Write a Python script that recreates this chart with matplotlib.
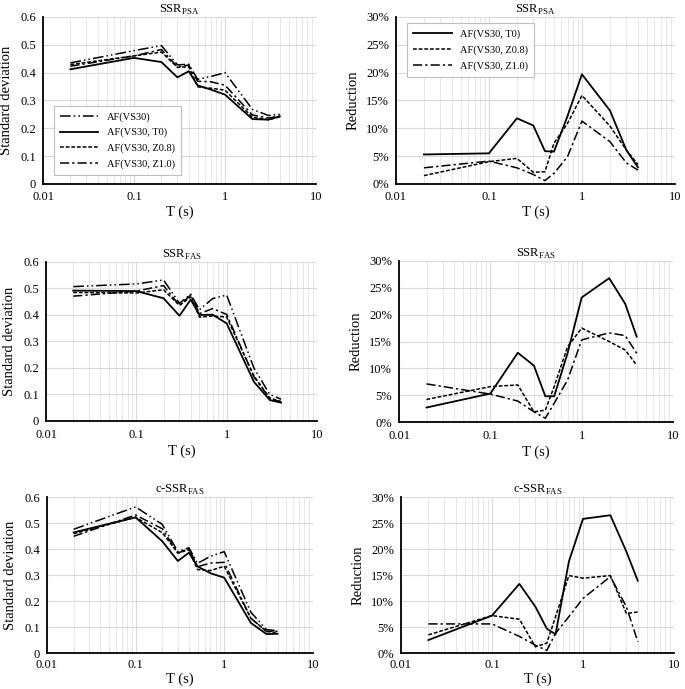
import numpy as np
import matplotlib
matplotlib.use("Agg")
import matplotlib.pyplot as plt
from matplotlib.ticker import FixedLocator, FuncFormatter, LogLocator, NullFormatter

plt.rcParams['font.family'] = ['Liberation Serif', 'DejaVu Serif']
plt.rcParams['mathtext.fontset'] = 'custom'
plt.rcParams['mathtext.rm'] = 'Liberation Serif'

# periods (s)
T = [0.02, 0.1, 0.2, 0.3, 0.4, 0.5, 0.7, 1, 2, 3, 4]

# standard deviations, SSR_PSA
psa_vs30 = [0.435, 0.479, 0.497, 0.428, 0.430, 0.376, 0.386, 0.400, 0.268, 0.246, 0.250]
psa_t0   = [0.412, 0.453, 0.438, 0.383, 0.405, 0.354, 0.339, 0.321, 0.233, 0.231, 0.243]
psa_z08  = [0.429, 0.460, 0.474, 0.419, 0.421, 0.349, 0.344, 0.337, 0.240, 0.231, 0.241]
psa_z10  = [0.423, 0.460, 0.483, 0.421, 0.427, 0.369, 0.367, 0.355, 0.248, 0.237, 0.244]
# reductions (%), SSR_PSA
psa_r_t0  = [5.3, 5.5, 11.8, 10.5, 5.9, 5.8, 12.2, 19.7, 13.2, 6.1, 3.0]
psa_r_z08 = [1.5, 4.0, 4.6, 2.1, 2.2, 7.3, 10.9, 15.9, 10.4, 6.1, 3.5]
psa_r_z10 = [2.9, 4.1, 2.9, 1.7, 0.6, 1.9, 4.9, 11.3, 7.6, 3.8, 2.5]

# standard deviations, SSR_FAS
fas_vs30 = [0.507, 0.517, 0.532, 0.444, 0.478, 0.420, 0.462, 0.475, 0.200, 0.100, 0.082]
fas_t0   = [0.492, 0.490, 0.463, 0.397, 0.458, 0.400, 0.401, 0.368, 0.148, 0.079, 0.069]
fas_z08  = [0.485, 0.483, 0.495, 0.436, 0.468, 0.392, 0.396, 0.392, 0.170, 0.087, 0.073]
fas_z10  = [0.471, 0.490, 0.511, 0.436, 0.476, 0.405, 0.424, 0.402, 0.167, 0.084, 0.072]
# reductions (%), SSR_FAS
fas_r_t0  = [2.7, 5.3, 12.9, 10.5, 4.8, 4.8, 12.8, 23.2, 26.8, 22.0, 15.9]
fas_r_z08 = [4.2, 6.6, 6.9, 1.9, 2.2, 6.6, 14.0, 17.5, 15.0, 13.4, 10.6]
fas_r_z10 = [7.1, 5.2, 3.9, 1.9, 0.7, 3.5, 7.8, 15.3, 16.6, 16.1, 12.8]

# standard deviations, c-SSR_FAS
cfas_vs30 = [0.476, 0.562, 0.495, 0.390, 0.405, 0.345, 0.372, 0.390, 0.157, 0.090, 0.086]
cfas_t0   = [0.464, 0.522, 0.430, 0.354, 0.386, 0.333, 0.307, 0.290, 0.116, 0.073, 0.074]
cfas_z08  = [0.459, 0.522, 0.463, 0.385, 0.397, 0.321, 0.317, 0.334, 0.134, 0.083, 0.079]
cfas_z10  = [0.449, 0.531, 0.478, 0.384, 0.403, 0.332, 0.346, 0.349, 0.134, 0.083, 0.084]
# reductions (%), c-SSR_FAS
cfas_r_t0  = [2.5, 7.2, 13.3, 8.9, 4.7, 3.6, 17.6, 25.8, 26.5, 19.5, 13.9]
cfas_r_z08 = [3.5, 7.2, 6.5, 1.2, 1.9, 7.0, 14.9, 14.4, 14.9, 7.6, 7.9]
cfas_r_z10 = [5.6, 5.6, 3.2, 1.5, 0.5, 3.8, 7.0, 10.5, 14.7, 8.9, 2.2]

lab_vs30 = 'AF(VS30)'
lab_t0 = 'AF(VS30, T0)'
lab_z08 = 'AF(VS30, Z0.8)'
lab_z10 = 'AF(VS30, Z1.0)'

st_vs30 = dict(color='black', lw=1.1, dashes=(7, 2, 1, 2, 1, 2))
st_t0 = dict(color='black', lw=1.3, linestyle='-')
st_z08 = dict(color='black', lw=1.1, dashes=(2.5, 1.2))
st_z10 = dict(color='black', lw=1.1, dashes=(6, 2, 1.5, 2))

fig = plt.figure(figsize=(6.85, 6.89), dpi=100)

# [left, bottom, width, height], x tick pad, x label pad
pos = {
    'l1': ([0.0628, 0.733, 0.3985, 0.2424], 5, 2),
    'r1': ([0.578, 0.733, 0.4073, 0.2424], 5, 2),
    'l2': ([0.0672, 0.389, 0.3956, 0.2308], 5.5, 3),
    'r2': ([0.5825, 0.3875, 0.400, 0.2337], 5.5, 3),
    'l3': ([0.0686, 0.0522, 0.388, 0.2264], 4.5, 1),
    'r3': ([0.5854, 0.0522, 0.3985, 0.2264], 4.5, 1),
}


def make_axes(key):
    rect, xpad, lpad = pos[key]
    ax = fig.add_axes(rect)
    ax.tick_params(axis='x', pad=xpad)
    ax.xaxis.labelpad = lpad
    return ax


def style(ax, title, ylabel, pct):
    ax.set_xscale('log')
    ax.set_xlim(0.01, 10)
    ax.xaxis.set_major_locator(FixedLocator([0.01, 0.1, 1, 10]))
    ax.xaxis.set_major_formatter(FuncFormatter(lambda v, p: '%g' % v))
    ax.xaxis.set_minor_locator(LogLocator(base=10, subs=np.arange(2, 10)))
    ax.xaxis.set_minor_formatter(NullFormatter())
    if pct:
        ax.set_ylim(0, 30)
        ax.set_yticks(np.arange(0, 31, 5))
        ax.yaxis.set_major_formatter(FuncFormatter(lambda v, p: '%d%%' % v))
    else:
        ax.set_ylim(0, 0.6)
        ax.set_yticks(np.arange(0, 0.61, 0.1))
        ax.yaxis.set_major_formatter(FuncFormatter(lambda v, p: '0' if v == 0 else '%.1f' % v))
    ax.grid(which='major', color='#d9d9d9', lw=0.8)
    ax.grid(which='minor', axis='x', color='#e6e6e6', lw=0.7)
    ax.set_axisbelow(True)
    for s in ['top', 'right']:
        ax.spines[s].set_visible(False)
    for s in ['left', 'bottom']:
        ax.spines[s].set_linewidth(1.3)
    ax.tick_params(which='both', length=0, labelsize=9)
    ax.tick_params(axis='y', pad=5)
    ax.set_title(title, fontsize=9, pad=3)
    ax.set_xlabel('T (s)', fontsize=10.5, labelpad=ax.xaxis.labelpad)
    ax.set_ylabel(ylabel, fontsize=10.5, labelpad=5)


def add_legend(ax, loc, anchor):
    lg = ax.legend(loc=loc, bbox_to_anchor=anchor, fontsize=7.5,
                   handlelength=3.7, fancybox=False, framealpha=1,
                   edgecolor='#bfbfbf', borderpad=0.6, labelspacing=0.6)
    lg.get_frame().set_linewidth(0.8)


def std_panel(key, title, vs30, t0, z08, z10, legend=False):
    ax = make_axes(key)
    ax.plot(T, vs30, label=lab_vs30, **st_vs30)
    ax.plot(T, t0, label=lab_t0, **st_t0)
    ax.plot(T, z08, label=lab_z08, **st_z08)
    ax.plot(T, z10, label=lab_z10, **st_z10)
    style(ax, title, 'Standard deviation', False)
    if legend:
        add_legend(ax, 'lower left', (0.02, 0.02))
    return ax


def red_panel(key, title, t0, z08, z10, legend=False):
    ax = make_axes(key)
    ax.plot(T, t0, label=lab_t0, **st_t0)
    ax.plot(T, z08, label=lab_z08, **st_z08)
    ax.plot(T, z10, label=lab_z10, **st_z10)
    style(ax, title, 'Reduction', True)
    if legend:
        add_legend(ax, 'upper left', (0.02, 0.995))
    return ax


std_panel('l1', r'SSR$_{\mathrm{PSA}}$', psa_vs30, psa_t0, psa_z08, psa_z10, legend=True)
red_panel('r1', r'SSR$_{\mathrm{PSA}}$', psa_r_t0, psa_r_z08, psa_r_z10, legend=True)
std_panel('l2', r'SSR$_{\mathrm{FAS}}$', fas_vs30, fas_t0, fas_z08, fas_z10)
red_panel('r2', r'SSR$_{\mathrm{FAS}}$', fas_r_t0, fas_r_z08, fas_r_z10)
std_panel('l3', r'c-SSR$_{\mathrm{FAS}}$', cfas_vs30, cfas_t0, cfas_z08, cfas_z10)
red_panel('r3', r'c-SSR$_{\mathrm{FAS}}$', cfas_r_t0, cfas_r_z08, cfas_r_z10)

fig.savefig('out.png', dpi=100)
